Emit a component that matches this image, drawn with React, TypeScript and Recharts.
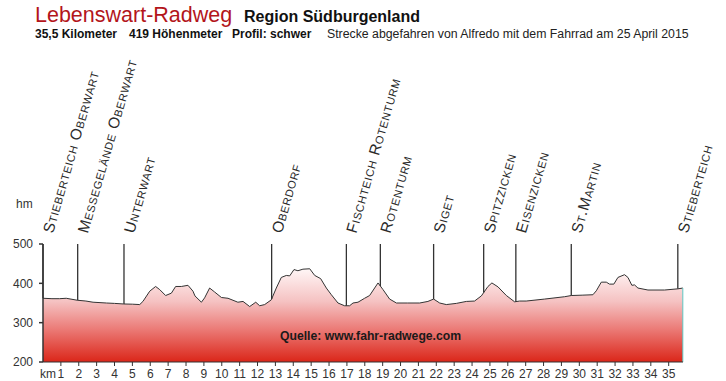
import React from 'react';
import {
  AreaChart,
  Area,
  XAxis,
  YAxis,
  ReferenceLine,
  ReferenceDot
} from 'recharts';

const profileKm = [
  0, 0.5, 0.93, 1.3, 1.92, 2.4, 2.8, 3.55, 4.0, 4.51, 5.0, 5.41, 5.59, 5.97, 6.3, 6.53,
  6.86, 7.18, 7.42, 7.74, 8.11, 8.39, 8.5, 8.86, 9.04, 9.32, 9.6, 9.98, 10.35, 10.9,
  11.19, 11.56, 11.9, 12.12, 12.4, 12.77, 13.05, 13.33, 13.61, 13.8, 14.04, 14.26,
  14.54, 14.92, 15.2, 15.53, 15.85, 16.13, 16.5, 16.87, 17.15, 17.34, 17.62, 17.99,
  18.27, 18.74, 19.02, 19.39, 19.77, 20.4, 21.07, 21.53, 21.85, 22.19, 22.56, 23.12,
  23.68, 24.14, 24.52, 24.89, 25.11, 25.45, 25.92, 26.38, 26.66, 27.03, 28.06, 29.18,
  29.55, 30.2, 30.76, 30.95, 31.23, 31.51, 31.69, 31.93, 32.16, 32.53, 32.72, 32.94,
  33.09, 33.28, 33.84, 34.77, 35.51, 35.79
];
const profileHm = [
  362, 361, 361, 362, 357, 355, 352, 350, 349, 347.5, 347, 346, 354, 380, 392, 384,
  369, 375, 392, 392, 395, 380, 368, 352, 363, 388, 378, 364, 362, 352,
  354, 341, 352, 343, 346, 358, 388, 415, 420, 419, 435, 432,
  436, 437, 420, 412, 388, 371, 350, 343, 343, 350, 352, 362,
  369, 401, 384, 360, 350, 350, 350, 354, 360, 350, 346, 349,
  354, 355, 368, 392, 401, 391, 369, 353, 355, 355, 360, 366,
  369, 370, 371, 381, 403, 403, 398, 398, 415, 422, 415, 395,
  396, 388, 383, 383, 386, 388
];

// Orte entlang der Strecke
const placeNames = [
  'Stieberteich Oberwart', 'Messegelände Oberwart', 'Unterwart', 'Oberdorf',
  'Fischteich Rotenturm', 'Rotenturm', 'Siget', 'Spitzzicken', 'Eisenzicken',
  'St.Martin', 'Stieberteich'
];
const placeKm = [0, 1.94, 4.53, 12.79, 16.97, 18.87, 21.85, 24.65, 26.45, 29.55, 35.51];

const kmTicks = [
  1, 2, 3, 4, 5, 6, 7, 8, 9, 10, 11, 12, 13, 14, 15, 16, 17, 18, 19, 20,
  21, 22, 23, 24, 25, 26, 27, 28, 29, 30, 31, 32, 33, 34, 35
];
const hmTicks = [200, 300, 400, 500];

const data = profileKm.map((km, i) => ({ km, hm: profileHm[i] }));

// Höhe an einer Stelle (für das Ende der Ortslinie)
const hmAt = (k: number) => {
  for (let i = 0; i < profileKm.length - 1; i++) {
    if (k >= profileKm[i] && k <= profileKm[i + 1]) {
      const t = (k - profileKm[i]) / (profileKm[i + 1] - profileKm[i]);
      return profileHm[i] + t * (profileHm[i + 1] - profileHm[i]);
    }
  }
  return profileHm[profileHm.length - 1];
};

const FONT = '"Liberation Sans", Arial, sans-serif';

const PlaceLabel = (label: string) => (props: any) => (
  <text
    transform={`translate(${props.cx + 10},${props.cy - 10}) rotate(-74)`}
    fill="#2a2a2a"
    fontSize={15.5}
    style={{ fontVariant: 'small-caps', fontFamily: FONT, letterSpacing: 0.7 }}
  >
    {label}
  </text>
);

export default function App() {
  return (
    <div style={{ position: 'absolute', left: 0, top: 0, width: 726, height: 381, background: '#fff', fontFamily: FONT }}>
      <AreaChart width={726} height={381} data={data} margin={{ top: 244, right: 43, bottom: 0, left: 0 }}>
        <defs>
          <linearGradient id="profilFill" x1="0" y1="0" x2="0" y2="1">
            <stop offset="0%" stopColor="#fff6f6" />
            <stop offset="35%" stopColor="#f5c2c2" />
            <stop offset="65%" stopColor="#eb7a76" />
            <stop offset="100%" stopColor="#db2619" />
          </linearGradient>
        </defs>
        <XAxis
          dataKey="km"
          type="number"
          domain={[0, 35.8]}
          ticks={kmTicks}
          interval={0}
          height={19}
          tickSize={4}
          tickMargin={3}
          stroke="#333"
          tick={{ fontSize: 12, fill: '#333', fontFamily: FONT }}
        />
        <YAxis
          type="number"
          domain={[200, 500]}
          ticks={hmTicks}
          width={43}
          tickSize={4}
          tickMargin={6}
          stroke="#333"
          strokeWidth={1.5}
          tick={{ fontSize: 12, fill: '#333', fontFamily: FONT }}
        />
        <Area
          type="linear"
          dataKey="hm"
          stroke="#333"
          strokeWidth={1}
          fill="url(#profilFill)"
          fillOpacity={1}
          dot={false}
          activeDot={false}
          isAnimationActive={false}
        />
        <ReferenceLine
          segment={[{ x: 35.79, y: 200 }, { x: 35.79, y: hmAt(35.79) }]}
          stroke="#5cc8c4"
          strokeWidth={1}
        />
        {placeKm.map((k, i) => (
          <ReferenceLine
            key={'l' + i}
            segment={[{ x: k, y: hmAt(k) }, { x: k, y: 500 }]}
            stroke="#333"
            strokeWidth={1.3}
          />
        ))}
        {placeKm.map((k, i) => (
          <ReferenceDot key={'d' + i} x={k} y={500} r={0} shape={PlaceLabel(placeNames[i])} />
        ))}
      </AreaChart>
      <svg width={726} height={381} style={{ position: 'absolute', left: 0, top: 0, pointerEvents: 'none' }}>
        <text x={35} y={22} fontSize={21.5} fill="#b3151b" style={{ fontFamily: FONT }}>Lebenswart-Radweg</text>
        <text x={244} y={22} fontSize={16} fontWeight="bold" fill="#111" style={{ fontFamily: FONT }}>Region Südburgenland</text>
        <text x={35} y={38} fontSize={12} fontWeight="bold" fill="#111" style={{ fontFamily: FONT }}>35,5 Kilometer</text>
        <text x={129} y={38} fontSize={12} fontWeight="bold" fill="#111" style={{ fontFamily: FONT }}>419 Höhenmeter</text>
        <text x={232} y={38} fontSize={12} fontWeight="bold" fill="#111" style={{ fontFamily: FONT }}>Profil: schwer</text>
        <text x={327} y={38} fontSize={12.3} fill="#222" style={{ fontFamily: FONT }}>Strecke abgefahren von Alfredo mit dem Fahrrad am 25 April 2015</text>
        <text x={16} y={208} fontSize={12} fill="#333" style={{ fontFamily: FONT }}>hm</text>
        <text x={40} y={378} fontSize={12} fill="#333" style={{ fontFamily: FONT }}>km</text>
        <text x={280} y={340} fontSize={12.2} fontWeight="bold" fill="#1a1a1a" style={{ fontFamily: FONT }}>Quelle: www.fahr-radwege.com</text>
      </svg>
    </div>
  );
}
